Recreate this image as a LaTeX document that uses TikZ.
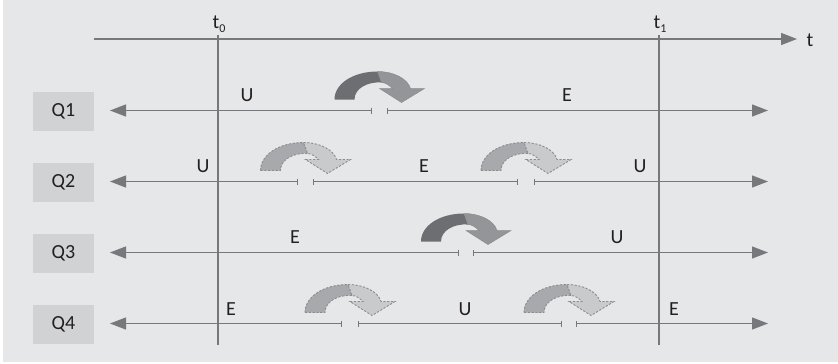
\documentclass[tikz,border=0pt]{standalone}
\usepackage{fontspec}
\setmainfont{Carlito}
\usetikzlibrary{arrows.meta}
\definecolor{bg}{HTML}{E6E7E8}
\definecolor{qbox}{HTML}{D1D2D4}
\definecolor{linec}{HTML}{77787B}
\definecolor{txt}{HTML}{231F20}
\definecolor{darkarc}{HTML}{6D6E71}
\definecolor{lightarc}{HTML}{939598}
\definecolor{dashdark}{HTML}{A7A9AC}
\definecolor{dashlight}{HTML}{C9CACC}
\definecolor{dashline}{HTML}{8A8C8E}
\tikzset{
  qlabel/.style={fill=qbox, minimum width=61pt, minimum height=39pt, inner sep=0pt,
    font=\fontsize{20}{20}\selectfont, text=txt},
  lab/.style={font=\fontsize{20}{20}\selectfont, text=txt, inner sep=0pt},
  qline/.style={line width=1.3pt, draw=linec},
  vline/.style={line width=1.4pt, draw=linec},
  lefthead/.style={{Triangle[length=16pt,width=12pt]}-{Bar[width=6pt]}},
  righthead/.style={{Bar[width=6pt]}-{Triangle[length=16pt,width=12pt]}},
  midseg/.style={{Bar[width=6pt]}-{Bar[width=6pt]}},
  pics/swapsolid/.style={code={
    \fill[darkarc] (-45,-11) .. controls (-45,-27) and (-26,-39) .. (-2,-39)
      -- (2,-28) .. controls (-12,-29) and (-25,-22) .. (-25,-11) -- cycle;
    \filldraw[fill=lightarc, draw=darkarc!80, line width=0.5pt]
      (-2,-39) .. controls (14,-39) and (28,-32) .. (31,-22) -- (45,-22) -- (22,-8)
      -- (0,-22) -- (13,-22) .. controls (10,-25) and (6,-28) .. (2,-28) -- cycle;
  }},
  pics/swapdash/.style={code={
    \filldraw[fill=dashdark, draw=dashline, dash pattern=on 2.2pt off 1.6pt, line width=0.9pt]
      (-45,-11) .. controls (-45,-27) and (-26,-39) .. (-2,-39)
      -- (2,-28) .. controls (-12,-29) and (-25,-22) .. (-25,-11) -- cycle;
    \filldraw[fill=dashlight, draw=dashline, dash pattern=on 2.2pt off 1.6pt, line width=0.9pt]
      (-2,-39) .. controls (14,-39) and (28,-32) .. (31,-22) -- (45,-22) -- (22,-8)
      -- (0,-22) -- (13,-22) .. controls (10,-25) and (6,-28) .. (2,-28) -- cycle;
  }}
}
\begin{document}
\begin{tikzpicture}[x=1pt,y=-1pt]
\useasboundingbox (0,0) rectangle (838,364);
\fill[bg] (3,0) rectangle (838,362);

% time axis
\coordinate (ax0) at (94,39);
\coordinate (ax1) at (797,39);
\draw[qline, -{Triangle[length=16pt,width=12pt]}] (ax0) -- (ax1);
\node[lab] (tlab) at (810,40) {t};

% t0 / t1
\coordinate (t0top) at (218,35);
\coordinate (t0bot) at (218,345);
\coordinate (t1top) at (659,35);
\coordinate (t1bot) at (659,345);
\draw[vline] (t0top) -- (t0bot);
\draw[vline] (t1top) -- (t1bot);
\node[lab, anchor=base] (t0lab) at (219,28) {t\raisebox{-4pt}{\fontsize{12}{12}\selectfont 0}};
\node[lab, anchor=base] (t1lab) at (660,28) {t\raisebox{-4pt}{\fontsize{12}{12}\selectfont 1}};

% Q boxes
\node[qlabel] (q1) at (63.5,111) {Q1};
\node[qlabel] (q2) at (63.5,182) {Q2};
\node[qlabel] (q3) at (63.5,253) {Q3};
\node[qlabel] (q4) at (63.5,324) {Q4};

% Q1
\coordinate (q1l) at (110,110.5);
\coordinate (q1a) at (372,110.5);
\coordinate (q1b) at (387,110.5);
\coordinate (q1r) at (768,110.5);
\draw[qline, lefthead] (q1l) -- (q1a);
\draw[qline, righthead] (q1b) -- (q1r);
\pic at (379.5,110.5) {swapsolid};
\node[lab] (q1u) at (247,95) {U};
\node[lab] (q1e) at (567,95) {E};

% Q2
\coordinate (q2l) at (110,181.5);
\coordinate (q2a) at (298,181.5);
\coordinate (q2b) at (313,181.5);
\coordinate (q2c) at (518,181.5);
\coordinate (q2d) at (534,181.5);
\coordinate (q2r) at (768,181.5);
\draw[qline, lefthead] (q2l) -- (q2a);
\draw[qline, midseg] (q2b) -- (q2c);
\draw[qline, righthead] (q2d) -- (q2r);
\pic at (305.5,181.5) {swapdash};
\pic at (526,181.5) {swapdash};
\node[lab] (q2u) at (203,166) {U};
\node[lab] (q2e) at (424,166) {E};
\node[lab] (q2u2) at (640,166) {U};

% Q3
\coordinate (q3l) at (110,252.5);
\coordinate (q3a) at (459,252.5);
\coordinate (q3b) at (473,252.5);
\coordinate (q3r) at (768,252.5);
\draw[qline, lefthead] (q3l) -- (q3a);
\draw[qline, righthead] (q3b) -- (q3r);
\pic at (466,252.5) {swapsolid};
\node[lab] (q3e) at (295,237) {E};
\node[lab] (q3u) at (617,237) {U};

% Q4
\coordinate (q4l) at (110,323.5);
\coordinate (q4a) at (342,323.5);
\coordinate (q4b) at (358,323.5);
\coordinate (q4c) at (562,323.5);
\coordinate (q4d) at (576,323.5);
\coordinate (q4r) at (768,323.5);
\draw[qline, lefthead] (q4l) -- (q4a);
\draw[qline, midseg] (q4b) -- (q4c);
\draw[qline, righthead] (q4d) -- (q4r);
\pic at (350,323.5) {swapdash};
\pic at (569,323.5) {swapdash};
\node[lab] (q4e) at (231,309) {E};
\node[lab] (q4u) at (465,309) {U};
\node[lab] (q4e2) at (674,309) {E};
\end{tikzpicture}
\end{document}
